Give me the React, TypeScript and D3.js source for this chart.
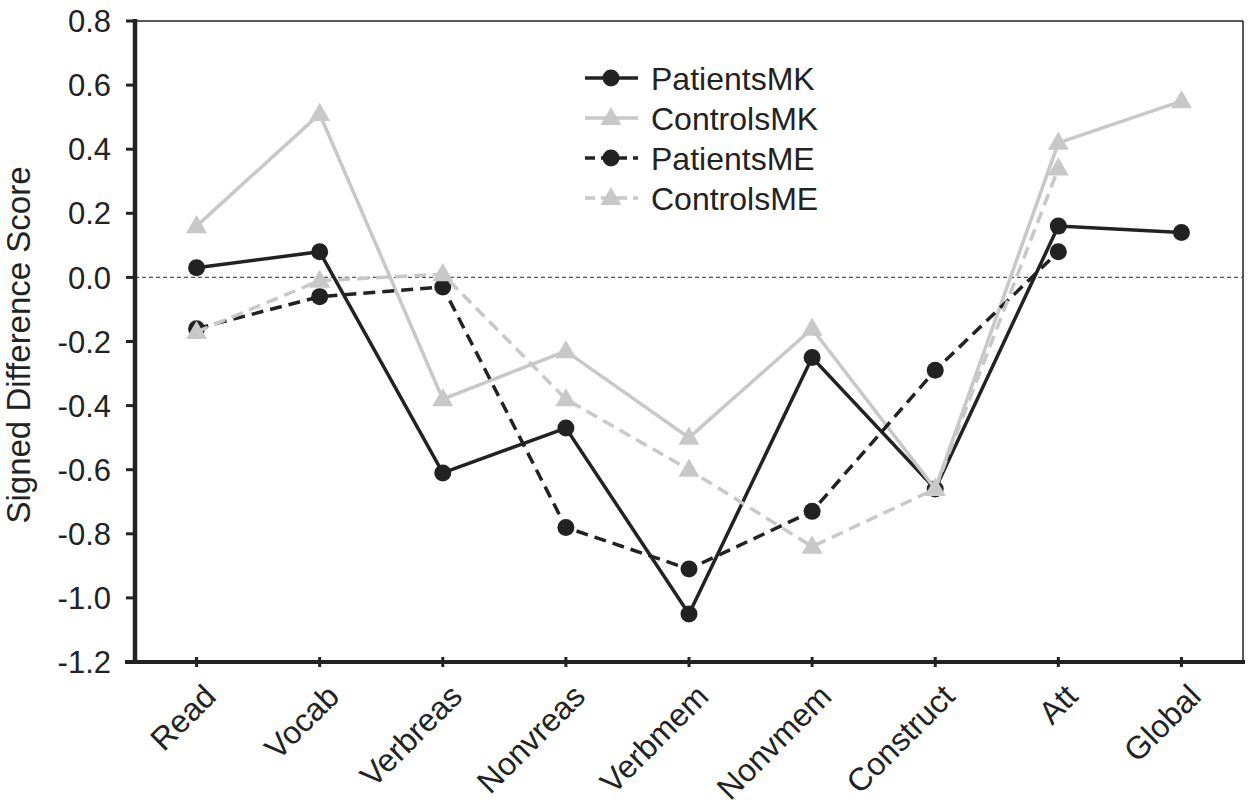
import React from "react";
import * as d3 from "d3";

const categories = ["Read", "Vocab", "Verbreas", "Nonvreas", "Verbmem", "Nonvmem", "Construct", "Att", "Global"];
const patientsMK = [0.03, 0.08, -0.61, -0.47, -1.05, -0.25, -0.66, 0.16, 0.14];
const controlsMK = [0.16, 0.51, -0.38, -0.23, -0.5, -0.16, -0.66, 0.42, 0.55];
const patientsME: (number | null)[] = [-0.16, -0.06, -0.03, -0.78, -0.91, -0.73, -0.29, 0.08, null];
const controlsME: (number | null)[] = [-0.17, -0.01, 0.01, -0.38, -0.6, -0.84, -0.66, 0.34, null];
const yTicks = [0.8, 0.6, 0.4, 0.2, 0.0, -0.2, -0.4, -0.6, -0.8, -1.0, -1.2];

const BLACK = "#222222";
const GRAY = "#c8c8c8";
const FONT = "'Liberation Sans', Arial, sans-serif";

const seriesList = [
  { name: "PatientsMK", values: patientsMK as (number | null)[], color: BLACK, dash: "none", marker: "circle" },
  { name: "ControlsMK", values: controlsMK as (number | null)[], color: GRAY, dash: "none", marker: "triangle" },
  { name: "PatientsME", values: patientsME, color: BLACK, dash: "12,7", marker: "circle" },
  { name: "ControlsME", values: controlsME, color: GRAY, dash: "12,7", marker: "triangle" },
];

const W = 1250;
const H = 808;
const left = 135;
const right = 1243;
const top = 21;
const bottom = 662;

export default function App() {
  const x = d3.scaleBand<string>().domain(categories).range([left, right]).padding(0);
  const cx = (c: string) => (x(c) as number) + x.bandwidth() / 2;
  const y = d3.scaleLinear().domain([-1.2, 0.8]).range([bottom, top]);
  const tri = d3.symbol().type(d3.symbolTriangle).size(190)();

  const marker = (type: string, px: number, py: number, color: string, key: string) =>
    type === "circle" ? (
      <circle key={key} cx={px} cy={py} r={8.5} fill={color} />
    ) : (
      <path key={key} d={tri as string} transform={`translate(${px},${py + 1})`} fill={color} />
    );

  return (
    <svg
      width={W}
      height={H}
      style={{ position: "absolute", left: 0, top: 0, background: "#fff" }}
      fontFamily={FONT}
    >
      <rect x={0} y={0} width={W} height={H} fill="#fff" />
      {/* frame */}
      <line x1={left} x2={right} y1={top} y2={top} stroke={BLACK} strokeWidth={1.5} />
      <line x1={right} x2={right} y1={top} y2={bottom} stroke={BLACK} strokeWidth={1.5} />
      {/* zero line */}
      <line x1={left} x2={right} y1={y(0)} y2={y(0)} stroke="#555" strokeWidth={1.3} strokeDasharray="4,3" />

      {/* series */}
      {seriesList.map((s) => {
        const line = d3
          .line<number | null>()
          .defined((d) => d !== null)
          .x((_, i) => cx(categories[i]))
          .y((d) => y(d as number));
        return (
          <g key={s.name}>
            <path d={line(s.values) as string} fill="none" stroke={s.color} strokeWidth={3.5} strokeDasharray={s.dash} />
            {s.values.map((v, i) =>
              v === null ? null : marker(s.marker, cx(categories[i]), y(v), s.color, s.name + i)
            )}
          </g>
        );
      })}

      {/* y axis */}
      <line x1={left} x2={left} y1={top - 2} y2={bottom + 2} stroke={BLACK} strokeWidth={4.5} />
      {yTicks.map((t) => (
        <g key={t}>
          <line x1={left - 9} x2={left} y1={y(t)} y2={y(t)} stroke={BLACK} strokeWidth={3} />
          <text x={left - 24} y={y(t)} dy="0.36em" textAnchor="end" fontSize={31} fill={BLACK}>
            {t.toFixed(1)}
          </text>
        </g>
      ))}
      <text
        transform={`translate(${30},${345}) rotate(-90)`}
        textAnchor="middle"
        fontSize={33}
        fill={BLACK}
      >
        Signed Difference Score
      </text>

      {/* x axis */}
      <line x1={left - 10} x2={right + 2} y1={bottom} y2={bottom} stroke={BLACK} strokeWidth={4} />
      {categories.map((c) => (
        <g key={c}>
          <line x1={cx(c)} x2={cx(c)} y1={bottom - 5} y2={bottom + 5} stroke={BLACK} strokeWidth={3} />
          <text
            transform={`translate(${cx(c) + 5},${bottom + 20}) rotate(-45)`}
            textAnchor="end"
            dy="0.72em"
            fontSize={32}
            fill={BLACK}
          >
            {c}
          </text>
        </g>
      ))}

      {/* legend */}
      {seriesList.map((s, i) => {
        const ly = 78 + i * 40;
        return (
          <g key={"lg" + s.name}>
            <line x1={585} x2={638} y1={ly} y2={ly} stroke={s.color} strokeWidth={3.5} strokeDasharray={s.dash === "none" ? "none" : "10,6"} />
            {marker(s.marker, 611, ly, s.color, "lgm" + i)}
            <text x={651} y={ly} dy="0.36em" fontSize={32} fill={BLACK}>
              {s.name}
            </text>
          </g>
        );
      })}
    </svg>
  );
}
